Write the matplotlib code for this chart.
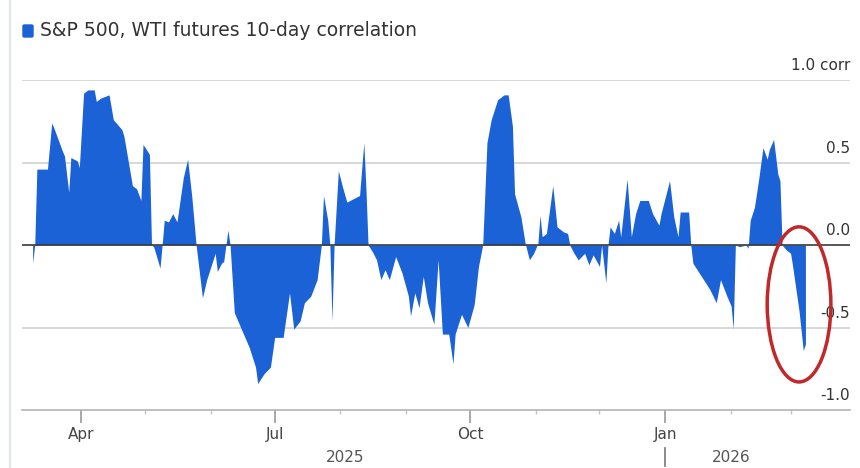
import matplotlib
matplotlib.use("Agg")
import matplotlib.pyplot as plt
import matplotlib.dates as mdates
import matplotlib.transforms as mtransforms
from matplotlib.patches import Ellipse, FancyBboxPatch
from matplotlib.lines import Line2D
import numpy as np
import pandas as pd

# ---------------- data ----------------
dates = [
    "2025-03-09", "2025-03-10", "2025-03-11", "2025-03-16", "2025-03-18", "2025-03-19",
    "2025-03-23", "2025-03-24", "2025-03-26", "2025-03-27", "2025-03-30", "2025-03-31",
    "2025-04-02", "2025-04-04", "2025-04-07", "2025-04-08", "2025-04-10", "2025-04-14",
    "2025-04-16", "2025-04-20", "2025-04-21", "2025-04-25", "2025-04-27", "2025-04-29",
    "2025-04-30", "2025-05-03", "2025-05-04", "2025-05-05", "2025-05-08", "2025-05-09",
    "2025-05-10", "2025-05-12", "2025-05-14", "2025-05-16", "2025-05-19", "2025-05-21",
    "2025-05-23", "2025-05-25", "2025-05-28", "2025-05-30", "2025-06-01", "2025-06-03",
    "2025-06-04", "2025-06-06", "2025-06-07", "2025-06-09", "2025-06-10", "2025-06-12",
    "2025-06-15", "2025-06-19", "2025-06-22", "2025-06-23", "2025-06-26", "2025-06-29",
    "2025-07-01", "2025-07-05", "2025-07-08", "2025-07-10", "2025-07-13", "2025-07-15",
    "2025-07-18", "2025-07-21", "2025-07-23", "2025-07-24", "2025-07-26", "2025-07-27",
    "2025-07-28", "2025-07-29", "2025-07-31", "2025-08-02", "2025-08-04", "2025-08-07",
    "2025-08-10", "2025-08-12", "2025-08-13", "2025-08-14", "2025-08-16", "2025-08-18",
    "2025-08-20", "2025-08-22", "2025-08-24", "2025-08-27", "2025-08-30", "2025-09-02",
    "2025-09-03", "2025-09-05", "2025-09-07", "2025-09-09", "2025-09-11", "2025-09-14",
    "2025-09-16", "2025-09-18", "2025-09-21", "2025-09-23", "2025-09-24", "2025-09-27",
    "2025-09-30", "2025-10-03", "2025-10-05", "2025-10-07", "2025-10-09", "2025-10-11",
    "2025-10-14", "2025-10-17", "2025-10-19", "2025-10-21", "2025-10-22", "2025-10-25",
    "2025-10-27", "2025-10-29", "2025-10-31", "2025-11-02", "2025-11-03", "2025-11-04",
    "2025-11-06", "2025-11-09", "2025-11-11", "2025-11-14", "2025-11-16", "2025-11-17",
    "2025-11-19", "2025-11-21", "2025-11-24", "2025-11-26", "2025-11-28", "2025-12-01",
    "2025-12-02", "2025-12-04", "2025-12-05", "2025-12-06", "2025-12-08", "2025-12-10",
    "2025-12-11", "2025-12-14", "2025-12-16", "2025-12-18", "2025-12-20", "2025-12-24",
    "2025-12-26", "2025-12-29", "2025-12-30", "2026-01-03", "2026-01-05", "2026-01-07",
    "2026-01-08", "2026-01-12", "2026-01-13", "2026-01-14", "2026-01-17", "2026-01-20",
    "2026-01-22", "2026-01-25", "2026-01-27", "2026-01-30", "2026-02-01", "2026-02-02",
    "2026-02-03", "2026-02-05", "2026-02-08", "2026-02-09", "2026-02-10", "2026-02-12",
    "2026-02-14", "2026-02-16", "2026-02-18", "2026-02-19", "2026-02-21", "2026-02-23",
    "2026-02-24", "2026-02-25", "2026-02-27", "2026-03-01", "2026-03-02", "2026-03-05",
    "2026-03-07", "2026-03-08",
]
corr = [
    -0.11, 0.00, 0.46, 0.46, 0.74, 0.71,
    0.57, 0.54, 0.32, 0.53, 0.51, 0.47,
    0.92, 0.94, 0.94, 0.87, 0.89, 0.91,
    0.76, 0.70, 0.66, 0.36, 0.34, 0.27,
    0.61, 0.55, 0.00, -0.01, -0.14, 0.00,
    0.15, 0.14, 0.19, 0.14, 0.41, 0.52,
    0.29, 0.00, -0.32, -0.21, -0.13, -0.05,
    -0.16, -0.11, -0.10, 0.09, 0.00, -0.41,
    -0.50, -0.62, -0.74, -0.84, -0.78, -0.74,
    -0.56, -0.56, -0.29, -0.51, -0.46, -0.35,
    -0.31, -0.21, 0.00, 0.30, 0.15, 0.00,
    -0.46, 0.00, 0.45, 0.35, 0.26, 0.28,
    0.30, 0.62, 0.34, 0.00, -0.04, -0.09,
    -0.21, -0.15, -0.21, -0.07, -0.17, -0.31,
    -0.43, -0.29, -0.38, -0.19, -0.35, -0.48,
    -0.09, -0.54, -0.54, -0.72, -0.54, -0.42,
    -0.50, -0.36, -0.13, 0.00, 0.62, 0.76,
    0.88, 0.91, 0.91, 0.72, 0.31, 0.17,
    0.01, -0.09, -0.05, 0.01, 0.18, 0.05,
    0.07, 0.36, 0.11, 0.08, 0.07, 0.00,
    -0.05, -0.09, -0.05, -0.12, -0.06, -0.13,
    0.00, -0.23, 0.00, 0.11, 0.07, 0.15,
    0.05, 0.40, 0.05, 0.19, 0.27, 0.27,
    0.19, 0.12, 0.19, 0.39, 0.17, 0.05,
    0.20, 0.20, 0.00, -0.11, -0.17, -0.23,
    -0.27, -0.35, -0.21, -0.31, -0.37, -0.51,
    0.00, -0.01, 0.00, -0.02, 0.15, 0.23,
    0.40, 0.59, 0.52, 0.58, 0.64, 0.43,
    0.39, 0.00, -0.03, -0.05, -0.13, -0.40,
    -0.64, -0.60,
]
y_ticks = [1.0, 0.5, 0.0, -0.5, -1.0]
y_labels = ["1.0 corr", "0.5", "0.0", "-0.5", "-1.0"]
series_name = "S&P 500, WTI futures 10-day correlation"

# ---------------- plot ----------------
blue = "#1a62d6"
x = pd.to_datetime(dates)
y = np.array(corr)

fig = plt.figure(figsize=(8.6, 4.68), dpi=100)
ax = fig.add_axes([22 / 860, 1 - 410 / 468, 828 / 860, 330 / 468])

ax.fill_between(x, y, 0, color=blue, linewidth=0)

ax.set_ylim(-1.0, 1.0)
ax.set_xlim(pd.Timestamp("2025-03-04"), pd.Timestamp("2026-03-29"))

for v in [1.0, 0.5, -0.5]:
    ax.axhline(v, color="#d2d2d2", lw=1.2, zorder=0)
ax.axhline(0, color="#3a3a3a", lw=1.2, zorder=3)

# right-side value labels sitting above the gridlines
for v, lab in zip(y_ticks, y_labels):
    ax.annotate(lab, xy=(1.0, v), xycoords=("axes fraction", "data"),
                xytext=(0, 5), textcoords="offset points",
                ha="right", va="bottom", fontsize=11, color="#333333")

ax.set_yticks([])
for s in ["top", "right", "left"]:
    ax.spines[s].set_visible(False)
ax.spines["bottom"].set_color("#b4b4b4")
ax.spines["bottom"].set_linewidth(1.2)

ax.xaxis.set_major_locator(mdates.MonthLocator(bymonth=[1, 4, 7, 10]))
ax.xaxis.set_major_formatter(mdates.DateFormatter("%b"))
ax.xaxis.set_minor_locator(mdates.MonthLocator())
ax.tick_params(axis="x", which="major", length=9, width=1.2, color="#999999",
               labelsize=11, labelcolor="#444444", pad=3)
ax.tick_params(axis="x", which="minor", length=3, width=1, color="#c4c4c4")

# year labels under the month labels
trans = mtransforms.blended_transform_factory(ax.transData, ax.transAxes)
ax.text(pd.Timestamp("2025-08-03"), -0.145, "2025", transform=trans,
        ha="center", va="center", fontsize=11, color="#555555")
ax.text(pd.Timestamp("2026-02-01"), -0.145, "2026", transform=trans,
        ha="center", va="center", fontsize=11, color="#555555")
ax.add_line(Line2D([mdates.date2num(pd.Timestamp("2026-01-01"))] * 2, [-0.115, -0.17],
                   transform=trans, color="#777777", lw=1.2, clip_on=False))

# thin frame line on the far left of the panel
fig.add_artist(Line2D([10 / 860, 10 / 860], [0, 1], transform=fig.transFigure,
                      color="#dfe4ea", lw=1.5))

# legend entry at top left
fig.patches.append(FancyBboxPatch((23 / 860, 1 - 37 / 468), 10 / 860, 12 / 468,
                                  boxstyle="round,pad=0,rounding_size=0.002",
                                  transform=fig.transFigure, color=blue))
fig.text(40 / 860, 1 - 31 / 468, series_name, ha="left", va="center",
         fontsize=13.5, color="#333333")

# red annotation ellipse around the latest drop
ell = Ellipse((mdates.date2num(pd.Timestamp("2026-03-05")), -0.36), width=30, height=0.94,
              angle=0, fill=False, edgecolor="#c0282a", lw=2.5, zorder=5,
              clip_on=False)
ax.add_patch(ell)

fig.savefig("out.png", dpi=100)
